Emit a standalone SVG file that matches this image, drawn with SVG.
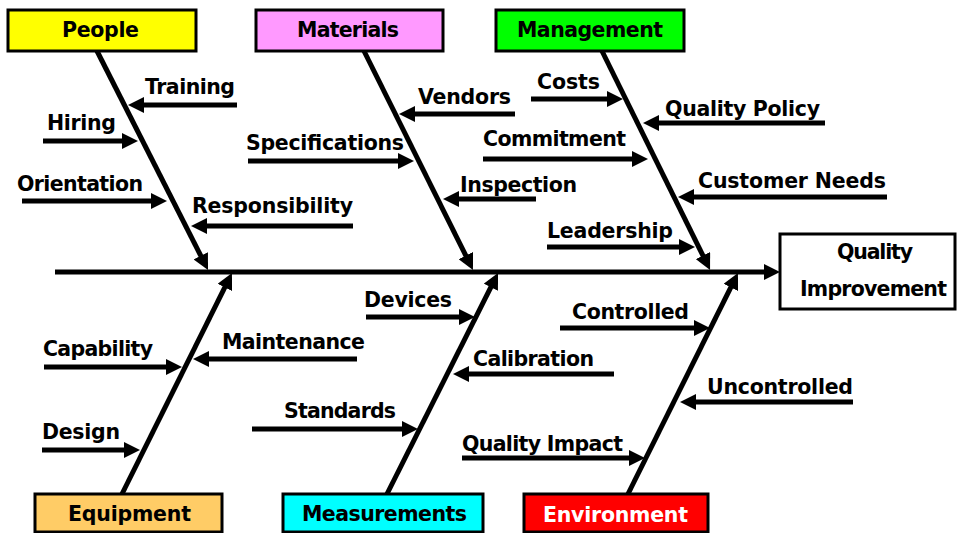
<svg xmlns="http://www.w3.org/2000/svg" width="958" height="533" viewBox="0 0 958 533">
  <style>
    .lbl { font-family: "DejaVu Sans", "Liberation Sans", sans-serif; font-weight: bold; font-size: 20.5px; fill: #000; }
    .box { stroke: #000; stroke-width: 3; }
    .bone { stroke: #000; stroke-width: 5; fill: none; marker-end: url(#head); }
    .twig { stroke: #000; stroke-width: 5; fill: none; marker-end: url(#head); }
  </style>
  <defs>
    <marker id="head" viewBox="0 0 16 16" refX="8" refY="8" markerWidth="16" markerHeight="16" markerUnits="userSpaceOnUse" orient="auto">
      <path d="M0,0 L16,8 L0,16 z" fill="#000"/>
    </marker>
  </defs>
  <rect width="958" height="533" fill="#fff"/>

  <!-- spine, bones and cause arrows -->
  <g id="connectors">
    <path class="bone" d="M55,272 L772,272"/>
    <!-- upper bones -->
    <path class="bone" d="M97,51 L204.4,262.9"/>
    <path class="bone" d="M364,51 L469.4,262.8"/>
    <path class="bone" d="M602,51 L706.5,262.8"/>
    <!-- lower bones -->
    <path class="bone" d="M122,494 L228.4,280.2"/>
    <path class="bone" d="M387,494 L494.4,280.1"/>
    <path class="bone" d="M628,494 L734.4,280.2"/>
    <!-- People causes -->
    <path class="twig" d="M237,105 L136,105"/>
    <path class="twig" d="M43,141 L130,141"/>
    <path class="twig" d="M22,201 L159,201"/>
    <path class="twig" d="M353,226 L199,226"/>
    <!-- Materials causes -->
    <path class="twig" d="M515,114 L407,114"/>
    <path class="twig" d="M248,161 L406,161"/>
    <path class="twig" d="M536,199 L451,199"/>
    <!-- Management causes -->
    <path class="twig" d="M531,99 L615,99"/>
    <path class="twig" d="M825,123 L651,123"/>
    <path class="twig" d="M483,159 L640,159"/>
    <path class="twig" d="M887,197 L686,197"/>
    <path class="twig" d="M547,247 L687,247"/>
    <!-- Equipment causes -->
    <path class="twig" d="M44,367 L174,367"/>
    <path class="twig" d="M357,359 L201,359"/>
    <path class="twig" d="M42,450 L132,450"/>
    <!-- Measurements causes -->
    <path class="twig" d="M366,317 L467,317"/>
    <path class="twig" d="M614,374 L461,374"/>
    <path class="twig" d="M252,429 L410,429"/>
    <!-- Environment causes -->
    <path class="twig" d="M560,328 L702,328"/>
    <path class="twig" d="M853,402 L688,402"/>
    <path class="twig" d="M462,458 L637,458"/>
  </g>

  <!-- category boxes -->
  <g id="people">
    <rect class="box" x="8" y="10" width="188" height="41" fill="#FFFF00"/>
    <text class="lbl" x="62" y="37" textLength="77" lengthAdjust="spacing">People</text>
  </g>
  <g id="materials">
    <rect class="box" x="256" y="10" width="187" height="41" fill="#FF99FF"/>
    <text class="lbl" x="297" y="37" textLength="102" lengthAdjust="spacing">Materials</text>
  </g>
  <g id="management">
    <rect class="box" x="496" y="10" width="188" height="41" fill="#00FF00"/>
    <text class="lbl" x="517" y="37" textLength="146" lengthAdjust="spacing">Management</text>
  </g>
  <g id="equipment">
    <rect class="box" x="35" y="494" width="187" height="38" fill="#FFCC66"/>
    <text class="lbl" x="68" y="521" textLength="123" lengthAdjust="spacing">Equipment</text>
  </g>
  <g id="measurements">
    <rect class="box" x="283" y="494" width="200" height="38" fill="#00FFFF"/>
    <text class="lbl" x="302" y="521" textLength="165" lengthAdjust="spacing">Measurements</text>
  </g>
  <g id="environment">
    <rect class="box" x="524" y="494" width="184" height="38" fill="#FF0000"/>
    <text class="lbl" x="543" y="522" textLength="145" lengthAdjust="spacing" style="fill:#fff">Environment</text>
  </g>

  <!-- effect -->
  <g id="quality-improvement">
    <rect class="box" x="780" y="234" width="175" height="75" fill="#fff"/>
    <text class="lbl" x="837" y="259" textLength="76" lengthAdjust="spacing">Quality</text>
    <text class="lbl" x="800" y="296" textLength="147" lengthAdjust="spacing">Improvement</text>
  </g>

  <!-- cause labels -->
  <g id="training"><text class="lbl" x="145" y="94" textLength="90" lengthAdjust="spacing">Training</text></g>
  <g id="hiring"><text class="lbl" x="47" y="130" textLength="69" lengthAdjust="spacing">Hiring</text></g>
  <g id="orientation"><text class="lbl" x="17" y="191" textLength="126" lengthAdjust="spacing">Orientation</text></g>
  <g id="responsibility"><text class="lbl" x="192" y="213" textLength="161" lengthAdjust="spacing">Responsibility</text></g>

  <g id="vendors"><text class="lbl" x="418" y="104" textLength="93" lengthAdjust="spacing">Vendors</text></g>
  <g id="specifications"><text class="lbl" x="246" y="150" textLength="158" lengthAdjust="spacing">Specifications</text></g>
  <g id="inspection"><text class="lbl" x="460" y="192" textLength="117" lengthAdjust="spacing">Inspection</text></g>

  <g id="costs"><text class="lbl" x="537" y="89" textLength="63" lengthAdjust="spacing">Costs</text></g>
  <g id="quality-policy"><text class="lbl" x="665" y="116" textLength="155" lengthAdjust="spacing">Quality Policy</text></g>
  <g id="commitment"><text class="lbl" x="483" y="146" textLength="143" lengthAdjust="spacing">Commitment</text></g>
  <g id="customer-needs"><text class="lbl" x="698" y="188" textLength="188" lengthAdjust="spacing">Customer Needs</text></g>
  <g id="leadership"><text class="lbl" x="547" y="238" textLength="126" lengthAdjust="spacing">Leadership</text></g>

  <g id="capability"><text class="lbl" x="43" y="356" textLength="110" lengthAdjust="spacing">Capability</text></g>
  <g id="maintenance"><text class="lbl" x="222" y="349" textLength="143" lengthAdjust="spacing">Maintenance</text></g>
  <g id="design"><text class="lbl" x="42" y="439" textLength="78" lengthAdjust="spacing">Design</text></g>

  <g id="devices"><text class="lbl" x="364" y="307" textLength="88" lengthAdjust="spacing">Devices</text></g>
  <g id="calibration"><text class="lbl" x="473" y="366" textLength="121" lengthAdjust="spacing">Calibration</text></g>
  <g id="standards"><text class="lbl" x="284" y="418" textLength="112" lengthAdjust="spacing">Standards</text></g>

  <g id="controlled"><text class="lbl" x="572" y="319" textLength="117" lengthAdjust="spacing">Controlled</text></g>
  <g id="uncontrolled"><text class="lbl" x="707" y="394" textLength="146" lengthAdjust="spacing">Uncontrolled</text></g>
  <g id="quality-impact"><text class="lbl" x="462" y="451" textLength="161" lengthAdjust="spacing">Quality Impact</text></g>
</svg>
